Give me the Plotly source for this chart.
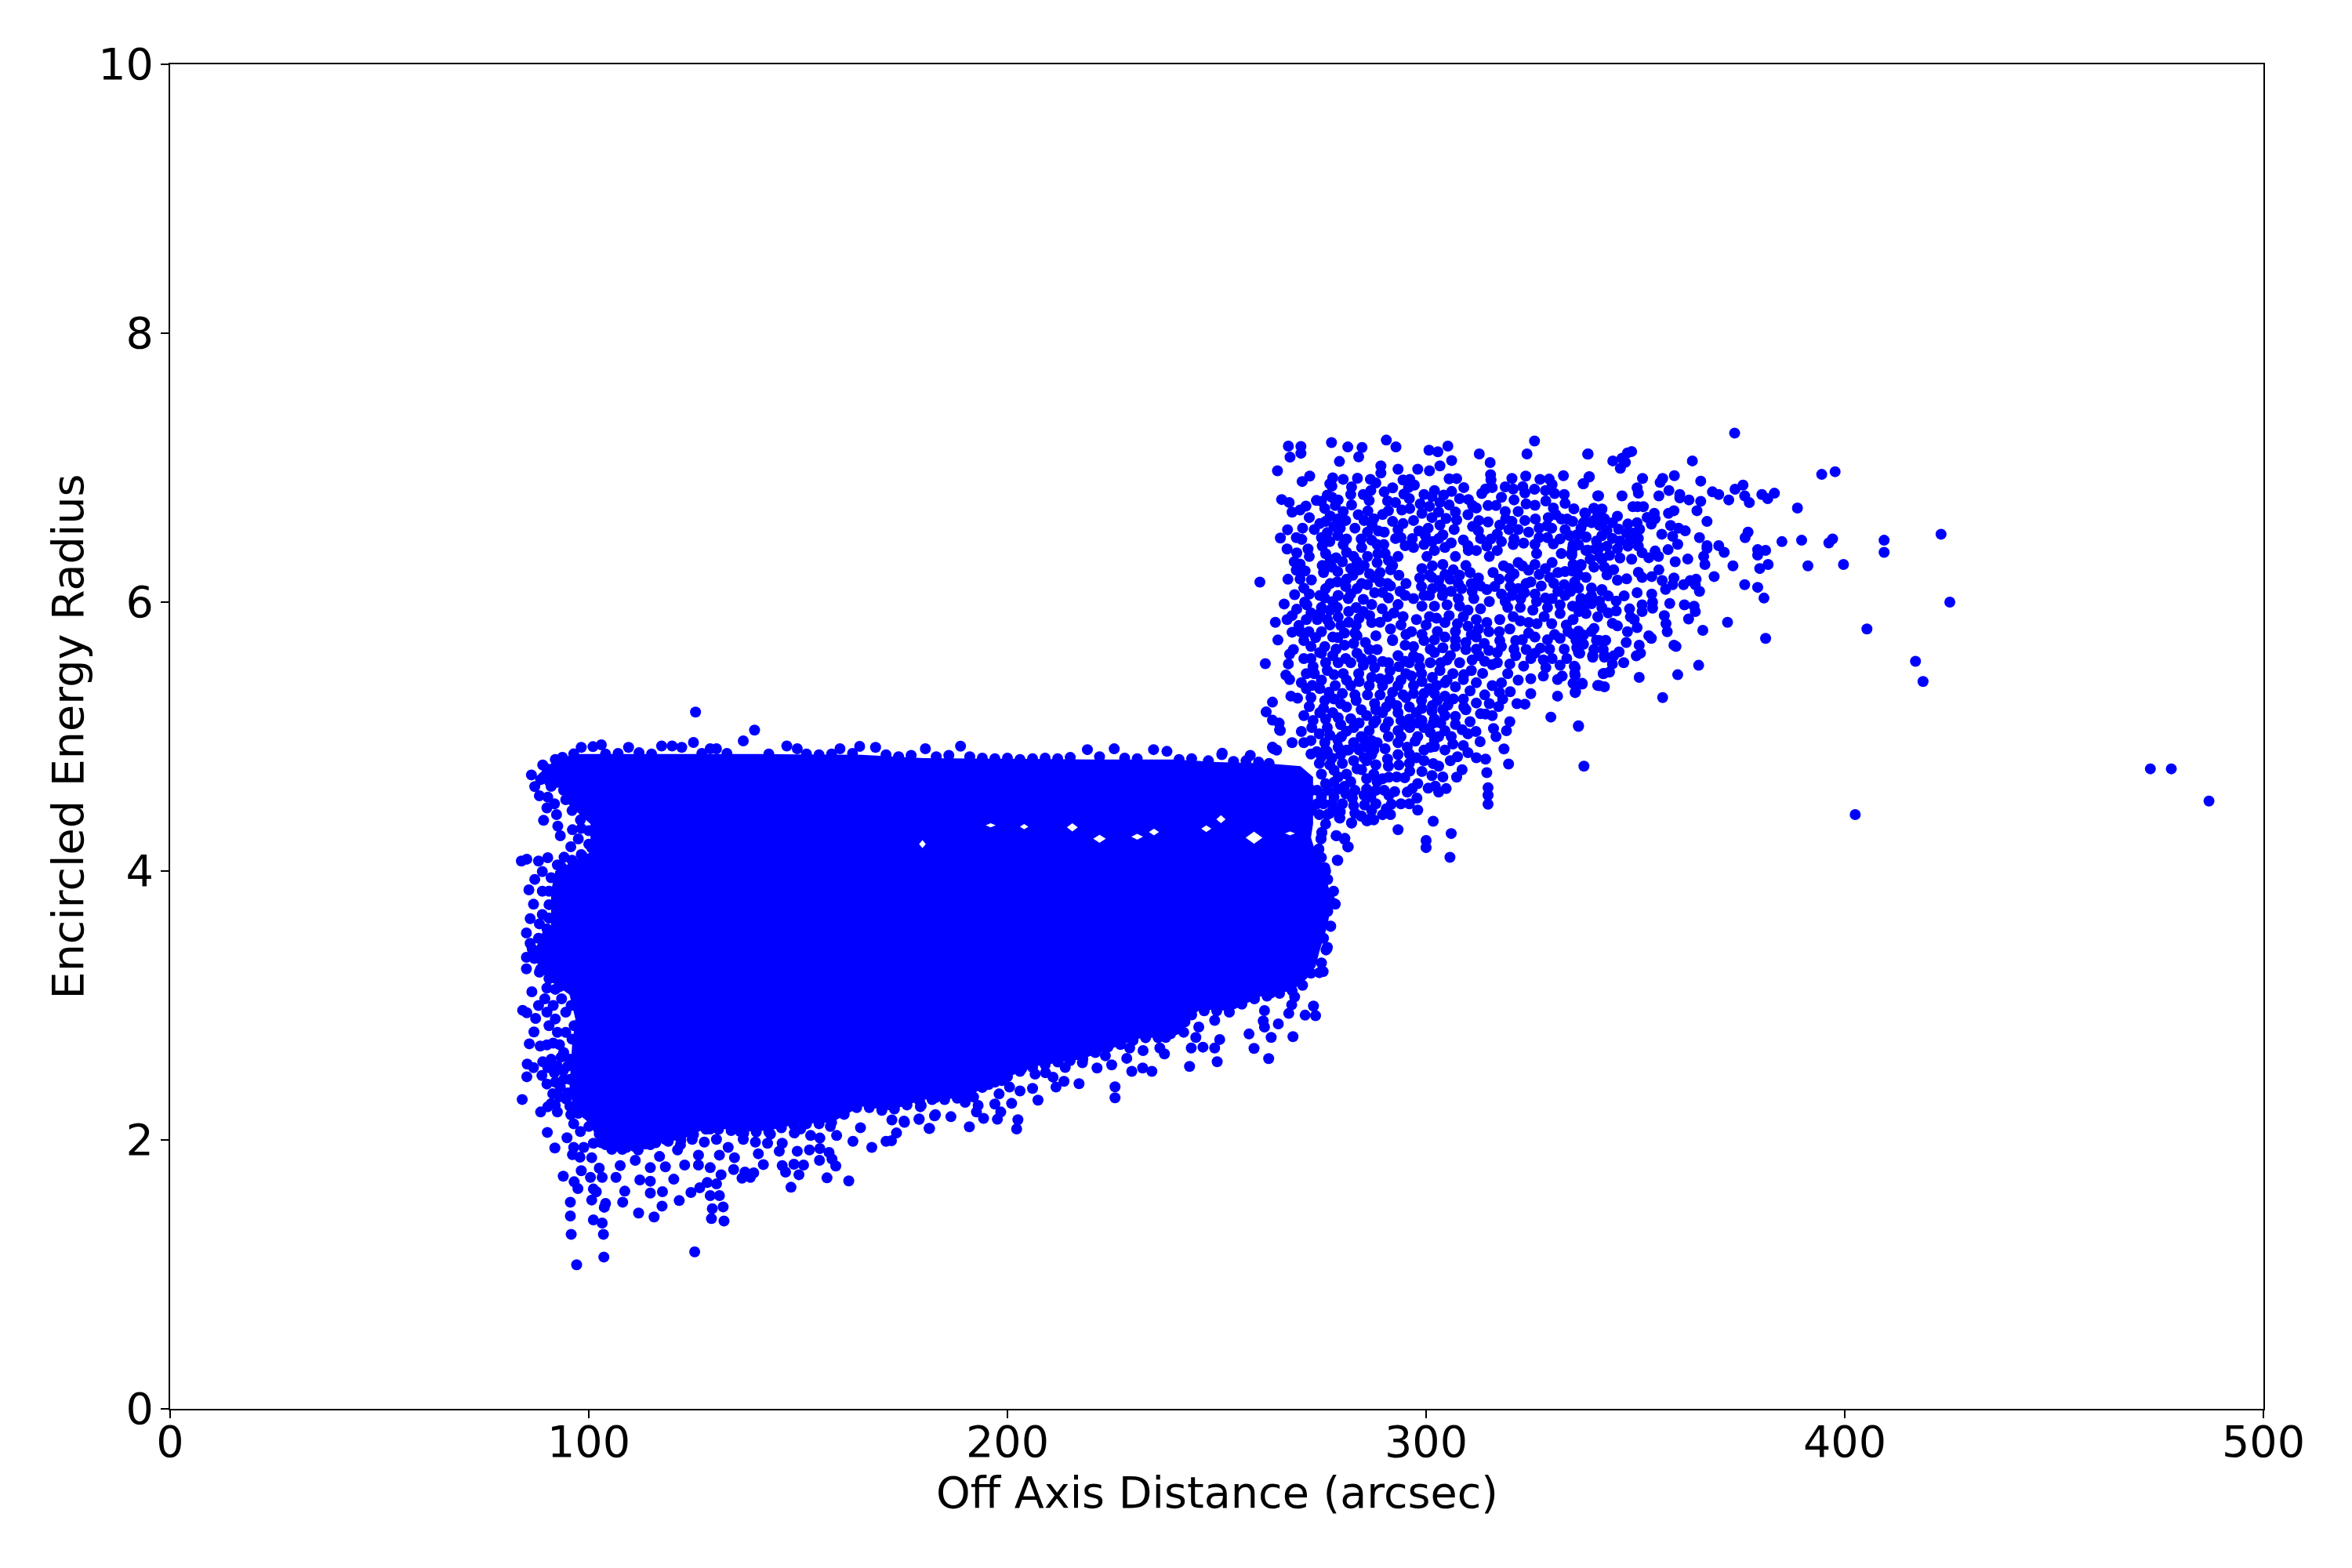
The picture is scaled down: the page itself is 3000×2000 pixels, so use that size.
import plotly.graph_objects as go

x_ticks = [0, 100, 200, 300, 400, 500]
y_ticks = [0, 2, 4, 6, 8, 10]
x_title = "Off Axis Distance (arcsec)"
y_title = "Encircled Energy Radius"

# Outline of the saturated core, where thousands of overlapping points merge into solid colour.
core_x = [95.4,98,120,140,165,180,200,220,240,250,262,270,273,273,272.5,273.5,275,276,277,277,276.5,275.5,274.5,273.6,271.5,268,260.7,253.5,246,238,232,217.7,207,196,190,180,172,165,158,150,143,136,129,122,115,107.5,102.5,100.4,96.4,95.4,96,96.8,95.4,90,88,87,89,91,91,92,99,100.4,100.4,95,94.5,90,88,91]
core_y = [4.86,4.87,4.87,4.87,4.865,4.84,4.835,4.83,4.83,4.81,4.80,4.78,4.70,4.35,4.25,4.15,4.08,3.95,3.85,3.7,3.6,3.5,3.40,3.29,3.2,3.11,3.07,2.96,2.97,2.76,2.76,2.6,2.55,2.42,2.31,2.30,2.22,2.25,2.13,2.12,2.07,2.06,2.10,2.0,1.98,1.93,1.96,2.12,2.22,2.39,2.7,2.9,3.08,3.2,3.28,3.4,3.55,3.58,3.85,4.0,4.12,4.14,4.35,4.5,4.62,4.62,4.72,4.80]
# Small empty pockets inside the core: centre x, centre y, half width, half height.
pockets = [(258.9,4.248,2.0,0.045),(231,4.255,1.4,0.022),(222,4.24,1.5,0.03),(215.5,4.325,1.3,0.03),(235,4.29,1.2,0.025),(196,4.34,1.2,0.015),(204,4.33,1.0,0.02),(251,4.385,1.1,0.03),(247.5,4.315,1.2,0.025),(267.5,4.28,1.2,0.015),(179.7,4.2,0.8,0.03)]

far_field = [(373.7,7.257),(338.6,7.10),(344.6,7.05),(349.1,7.12),(348.1,7.11),(346.8,7.07),(347.6,7.04),(346.4,6.995),(363.6,7.05),(394.5,6.95),(397.7,6.97),(351.7,6.92),(338.9,6.93),(337.5,6.88),(359.3,6.94),(356.5,6.92),(355.9,6.89),(365.6,6.90),(350.4,6.85),(350.7,6.81),(358,6.83),(341,6.79),(346.8,6.79),(355.6,6.79),(360.6,6.80),(360.6,6.775),(362.8,6.76),(365.6,6.75),(368.4,6.82),(369.9,6.80),(372.3,6.76),(373.8,6.84),(375.7,6.87),(376.1,6.79),(377.2,6.74),(380.2,6.80),(381.6,6.77),(383.2,6.81),(388.7,6.70),(364.7,6.68),(359.2,6.68),(357.9,6.66),(349.4,6.71),(350.5,6.71),(351.9,6.71),(354.5,6.66),(352.8,6.63),(353.8,6.58),(354.7,6.62),(367.1,6.60),(358.4,6.57),(360.3,6.55),(361.9,6.53),(356.3,6.505),(358.9,6.49),(365.3,6.48),(376.9,6.52),(376.2,6.48),(385,6.45),(389.7,6.46),(396.2,6.44),(397.1,6.47),(409.4,6.46),(409.4,6.37),(423,6.505),(360.1,6.43),(357.8,6.39),(354.7,6.38),(355.5,6.34),(353.2,6.33),(367.1,6.42),(367.1,6.40),(366.3,6.34),(366.6,6.28),(369.9,6.42),(371.2,6.37),(379.2,6.39),(381.1,6.385),(379.2,6.35),(381.7,6.28),(379.7,6.25),(373.3,6.27),(362.5,6.32),(359.5,6.30),(391.2,6.27),(399.7,6.28),(355.6,6.24),(353.9,6.19),(359.2,6.18),(356.4,6.16),(358.9,6.13),(357.2,6.095),(361.5,6.13),(363.1,6.16),(364.5,6.17),(364.3,6.13),(365.3,6.08),(368.8,6.19),(376.1,6.13),(379.2,6.11),(380.7,6.03),(425.1,6.0),(350.4,6.07),(353.9,6.06),(354.1,6.0),(354.1,5.955),(351.6,5.98),(351.6,5.93),(358.2,5.99),(361.7,5.98),(364,5.97),(364.3,5.93),(362.7,5.875),(356.9,5.90),(357.3,5.84),(357.6,5.78),(372,5.85),(366.1,5.79),(381.1,5.73),(405.3,5.80),(348.6,5.95),(348.8,5.89),(349.7,5.87),(350.4,5.81),(348.1,5.78),(353.2,5.75),(353.8,5.73),(347.8,5.70),(350.9,5.68),(359.2,5.68),(359.7,5.67),(351.2,5.62),(350.2,5.60),(346.1,5.63),(344.8,5.60),(347.2,5.55),(344.5,5.54),(416.9,5.56),(418.7,5.41),(365.1,5.53),(360.1,5.46),(350.9,5.44),(343.8,5.48),(342.5,5.47),(342.6,5.37),(341,5.38),(356.5,5.29),(336.4,5.08),(337.7,4.78),(402.5,4.42),(473,4.76),(478,4.76),(487,4.52)]

cluster_knot = [(340.1,6.698),(341.9,6.688),(338.1,6.659),(341,6.639),(342.6,6.62),(337.6,6.591),(339.5,6.591),(341.4,6.571),(345.7,6.639),(348.2,6.581),(350.4,6.591),(344.5,6.591),(351,6.542),(343.2,6.532),(346,6.542),(347.9,6.513),(349.4,6.513),(338.2,6.484),(340.7,6.455),(342,6.494),(344.5,6.474),(346.3,6.455),(348.8,6.464),(350.7,6.474),(335.1,6.426),(336.4,6.426),(338.6,6.387),(340.4,6.396),(343.2,6.416),(345.7,6.396),(348.2,6.416),(350.7,6.416),(351.6,6.367),(334.8,6.367),(337,6.28),(339.2,6.319),(341.4,6.338),(343.8,6.348),(346.3,6.328),(349.1,6.319),(335.1,6.28),(340.1,6.26),(342.6,6.26),(344.8,6.241),(347.9,6.173),(350.7,6.222),(351.6,6.183),(336.4,6.202),(338.2,6.183),(343.2,6.202),(345.7,6.163),(335.1,6.105),(336.4,6.105),(339.5,6.105),(342,6.085),(343.5,6.046),(337,6.027),(338.9,6.027),(341.4,6.008),(345.4,6.008),(347.3,6.046),(337.6,5.949),(339.5,5.988),(345.4,5.934),(343.5,5.92),(341,5.891),(344.5,5.842),(345.7,5.823),(340.1,5.804),(336.4,5.784),(337.6,5.755),(335.8,5.716),(340.7,5.716),(342.9,5.716),(337.6,5.687),(340.1,5.648),(342.3,5.648),(336.7,5.619),(339.8,5.59),(342.6,5.59),(335.6,5.512),(335.6,5.454),(335.1,5.396),(337.3,5.396),(335.6,5.327)]

cluster_top = [(267.1,7.16),(270.1,7.158),(270.1,7.107),(267.5,7.078),(277.4,7.187),(281.3,7.154),(284.7,7.15),(283.9,7.08),(279.3,7.046),(290.5,7.205),(292.8,7.154),(300.7,7.13),(302.8,7.118),(305.2,7.16),(306.1,7.053),(303.3,7.013),(300.8,6.977),(298,6.988),(293.3,6.988),(289.2,7.013),(289.2,6.96),(264.5,6.977),(272.2,6.937),(270.4,6.897),(312.7,7.102),(315.3,7.038),(324.1,7.102),(325.9,7.198),(338.7,7.102),(315.4,6.948),(332.8,6.94),(339,6.933),(337.6,6.88),(341.2,6.79),(323.8,6.937),(320.5,6.92),(277.7,6.924),(280.2,6.913),(282.2,6.857),(283.6,6.921),(277.5,6.863),(286.7,6.913),(288,6.886),(286.8,6.83),(286.4,6.756),(294.5,6.908),(296.1,6.913),(297.2,6.87),(295.8,6.852),(294.7,6.803),(305.5,6.917),(307.3,6.919),(309,6.852),(306.1,6.823),(304.2,6.796),(301.4,6.785),(298.6,6.73),(300.8,6.712),(303.3,6.741),(305.5,6.723),(310.1,6.763),(311.1,6.718),(313.3,6.808),(314.2,6.841),(315.8,6.852),(315.5,6.908),(318.9,6.857),(320.8,6.841),(323.1,6.859),(323.6,6.812),(325.9,6.839),(327.2,6.913),(329.4,6.915),(330.1,6.875),(330.7,6.808),(328.6,6.752),(330.4,6.7),(333.2,6.734),(335.3,6.694),(337.9,6.663),(340.1,6.696),(342,6.692),(265.5,6.763),(267.3,6.741),(268,6.669),(269.9,6.685),(271.3,6.714),(273.8,6.756),(282.2,6.723),(276.4,6.796)]

cluster_upper = [(275.8,6.696),(278.3,6.718),(280.2,6.674),(277.1,6.64),(278.9,6.618),(280.8,6.607),(272.1,6.629),(273.3,6.54),(274.6,6.584),(276.4,6.517),(278,6.562),(278.9,6.495),(286.1,6.678),(285.2,6.607),(287.1,6.573),(288.6,6.529),(290.8,6.752),(292.7,6.741),(289.6,6.651),(294.2,6.685),(296.1,6.696),(294.5,6.584),(297,6.607),(293.3,6.54),(292.7,6.473),(298.3,6.529),(299.8,6.495),(296.7,6.473),(303,6.473),(301.4,6.629),(303.3,6.573),(304.8,6.622),(307.3,6.611),(306.7,6.54),(308.9,6.462),(311.1,6.562),(312.6,6.607),(314.8,6.596),(316.7,6.718),(314.8,6.718),(318.9,6.674),(317.6,6.573),(317,6.506),(319.8,6.54),(322,6.54),(322,6.674),(323.9,6.73),(323.6,6.607),(326.1,6.618),(329.2,6.629),(328.9,6.567),(332.3,6.618),(333.7,6.618),(333.2,6.54),(334.2,6.495),(330.4,6.433),(336.2,6.428),(338.2,6.484),(337.9,6.596),(340.1,6.607),(342,6.584),(313,6.473),(314.5,6.417),(320.8,6.428),(323.3,6.439),(266.9,6.538),(265.2,6.477),(270.3,6.466),(275.2,6.417),(271.8,6.395),(266.8,6.395),(269.1,6.366),(280.2,6.428),(288.3,6.428),(289.9,6.428)]

cluster_middle = [(272.1,6.339),(269.9,6.283),(269,6.238),(271.1,6.232),(269.9,6.171),(272.6,6.165),(270.8,6.104),(272.1,6.06),(268.6,6.055),(266.1,5.986),(266.8,5.87),(269.1,5.948),(260.3,6.149),(275.2,6.272),(277.1,6.317),(278.9,6.227),(282.7,6.339),(284.6,6.406),(282,6.25),(285.2,6.272),(288.3,6.294),(290.2,6.361),(292,6.272),(293.3,6.339),(297,6.406),(299.5,6.428),(300.2,6.339),(302,6.384),(304.5,6.406),(307,6.339),(309.5,6.272),(312,6.384),(310.1,6.384),(315.1,6.339),(317,6.384),(319.8,6.25),(322,6.294),(326.4,6.361),(324.5,6.238),(330.1,6.294),(332.3,6.361),(334.8,6.35),(338.2,6.384),(341.4,6.406),(342,6.317),(337,6.272),(333.2,6.227),(329.5,6.183),(327,6.205),(323.9,6.138),(320.1,6.116),(316.4,6.116),(314.5,6.093),(310.8,6.138),(307.7,6.138),(304.5,6.205),(301.4,6.183),(298.9,6.116),(295.2,6.138),(290.8,6.138),(287.7,6.183),(284.6,6.138),(280.8,6.116),(277.1,6.138),(274.6,6.049),(277.7,6.004),(281.4,6.026),(283.3,5.959),(287,5.982),(289.6,6.071),(293.3,5.982),(297,6.026),(300.8,6.049),(303.9,6.049),(307.7,6.026),(311.4,6.026),(315.1,6.004),(318.9,6.004),(322.6,6.026),(326.4,6.004),(330.1,6.026),(333.2,6.049),(337,6.004),(339.5,6.049),(342,6.093),(342,5.959),(338.2,5.915),(335.1,5.87),(332,5.915),(328.2,5.892),(324.5,5.848),(320.8,5.892),(317.6,5.87),(314.5,5.848),(312,5.87),(308.9,5.892),(304.5,5.848),(300.8,5.892),(297.7,5.87),(294.5,5.892),(290.8,5.892),(287,5.848),(283.3,5.826),(279.6,5.826),(276.4,5.87),(274.6,5.915),(271.4,5.87),(269.6,5.826),(268,5.776)]

cluster_lower = [(264.6,5.718),(268.3,5.647),(267.4,5.613),(270.8,5.714),(273.6,5.736),(270.8,5.58),(261.6,5.542),(267.1,5.54),(266.5,5.457),(271.4,5.468),(270.2,5.401),(267.4,5.424),(275.8,5.669),(278.9,5.736),(282.7,5.692),(286.4,5.647),(288.3,5.647),(292,5.714),(295.2,5.759),(297,5.669),(299.5,5.714),(302.7,5.781),(307,5.781),(310.8,5.759),(313.9,5.692),(317.6,5.714),(321.4,5.714),(324.5,5.77),(323.9,5.647),(327.3,5.658),(330.7,5.759),(333.9,5.781),(337,5.714),(339.5,5.781),(341.4,5.714),(342.6,5.602),(339.8,5.602),(336.4,5.625),(333.6,5.58),(330.1,5.58),(321.4,5.602),(317,5.625),(312.6,5.602),(309.5,5.647),(305.8,5.602),(302,5.625),(298.3,5.58),(293.3,5.602),(289.6,5.558),(284.6,5.58),(280.8,5.58),(277.7,5.602),(274.6,5.625),(273.3,5.468),(276.4,5.491),(280.2,5.468),(283.9,5.468),(287.7,5.513),(291.4,5.491),(295.2,5.468),(298.9,5.468),(303.3,5.491),(306.4,5.468),(310.8,5.491),(315.8,5.535),(319.5,5.468),(323.3,5.524),(328.6,5.513),(331.4,5.424),(335.4,5.524),(337.3,5.39),(335.7,5.334),(341.4,5.379),(342.3,5.468),(331.4,5.301),(325,5.319),(320.1,5.334),(315.8,5.379),(312,5.401),(308.9,5.424),(304.5,5.401),(300.8,5.357),(297,5.379),(293.3,5.379),(289.6,5.379),(286.4,5.379),(282,5.379),(278.3,5.379),(274.6,5.357),(271.4,5.357),(267.7,5.301),(269.3,5.285),(263.3,5.256),(261.8,5.183),(263.3,5.122),(264.9,5.1),(265,5.049),(321.7,5.245),(323.6,5.241),(318.3,5.279),(317.3,5.223),(315.1,5.245),(314.2,5.167),(315.8,5.156),(329.8,5.145),(320,5.111),(319.2,5.044),(336.4,5.076),(319.7,4.796),(318.6,4.908),(316.1,5.06),(316.7,5)]

cluster_base = [(308.9,5.279),(305.2,5.234),(302.7,5.268),(298.9,5.268),(295.2,5.29),(291.4,5.268),(287.7,5.245),(283.3,5.268),(279.6,5.245),(275.8,5.268),(272.1,5.223),(270.8,5.156),(274.6,5.178),(277.7,5.178),(282,5.133),(285.8,5.156),(289.6,5.178),(293.3,5.178),(297.7,5.178),(301.4,5.189),(304.5,5.156),(309.5,5.2),(310.5,5.111),(308.6,5.051),(311.9,5.038),(312.9,4.962),(304.5,5.044),(301.7,5.1),(299.5,5.067),(296.1,5.067),(293.3,5.044),(290.2,5.067),(286.4,5.044),(282.7,5.067),(279.6,5.089),(276.4,5.067),(272.7,5.067),(270.2,5.038),(268,4.955),(263.3,4.921),(264.3,4.899),(270.8,4.955),(275.8,4.955),(278.9,4.977),(282.7,4.955),(285.2,4.977),(288.3,4.955),(293.3,4.955),(297.4,4.966),(302,4.977),(302,4.926),(299.5,4.899),(295.5,4.921),(306.4,4.944),(308.9,4.933),(312,4.843),(305.8,4.821),(314.2,4.832),(314.5,4.732),(308.6,4.754),(307.3,4.698),(301.7,4.799),(299.5,4.821),(297.7,4.843),(293.3,4.866),(290.8,4.832),(290.2,4.91),(287,4.866),(285.2,4.843),(282.7,4.821),(279.6,4.866),(276.4,4.888),(273.9,4.888),(293.5,4.788),(296.1,4.743),(294.9,4.694),(301.4,4.71),(300.5,4.616),(302.2,4.631),(304.8,4.613),(303,4.587),(296.7,4.613),(295.5,4.587),(297.8,4.542),(292.5,4.591),(291.1,4.564),(291.7,4.497),(290.5,4.464),(289.6,4.419),(298,4.453),(301.7,4.37),(293.3,4.308),(306,4.279),(300,4.227),(300,4.174),(305.7,4.102),(314.8,4.62),(314.8,4.564),(314.8,4.497),(285.8,4.821),(284.6,4.754),(285.8,4.687),(288.3,4.665),(291.1,4.698),(289.6,4.687),(285.8,4.609),(285.2,4.564),(282,4.665),(278.9,4.609),(280.8,4.575),(282.4,4.542),(282.7,4.486),(285.3,4.491),(278.6,4.453),(279.3,4.397),(276.4,4.419),(282.2,4.357),(284.6,4.408),(285.8,4.375),(286.7,4.39),(275.1,4.285),(274.9,4.241),(278.5,4.263),(280.5,4.236),(281.3,4.18),(274.4,4.163),(278.8,4.08),(276.5,4.6),(275,4.72),(278,4.75),(275.5,4.5),(278,4.55),(276,4.35),(251.2,4.866),(258,4.86)]

cluster_dense = [(276,6.36),(278.5,6.33),(281,6.37),(283.5,6.3),(286,6.34),(288.5,6.36),(291,6.31),(275.5,6.22),(277.5,6.26),(280,6.3),(282.5,6.2),(284,6.24),(286.5,6.21),(289,6.22),(291.5,6.24),(293.5,6.2),(276,6.1),(278.8,6.15),(281,6.17),(283.5,6.1),(286,6.13),(289,6.15),(291.5,6.12),(293.8,6.08),(275.8,6.03),(279,6.05),(282,6.06),(285,6.02),(287.7,6.07),(291,6.03),(295,6.05),(278.8,5.96),(281.5,5.93),(285,5.93),(289.5,5.95),(292.3,5.92),
(299,6.25),(301.5,6.27),(304,6.28),(306.5,6.24),(298.5,6.18),(300.8,6.2),(303,6.16),(305.7,6.17),(308,6.2),(310.5,6.22),(312.5,6.18),(299.5,6.05),(301.5,6.1),(303.7,6.1),(306,6.08),(308.5,6.1),(311,6.08),(313,6.12),(299,5.97),(302,5.97),(305,5.98),(308,5.97),(310,5.94),(313,5.95),(300,5.83),(302.5,5.88),(305.5,5.9),(307.5,5.84),(310,5.82),(312.5,5.8),
(316,6.22),(318.5,6.27),(321,6.21),(323,6.27),(326,6.28),(328.5,6.25),(331.5,6.22),(335,6.23),(317.5,6.17),(320,6.18),(322,6.1),(325,6.15),(327.5,6.12),(330.5,6.14),(333,6.13),(335.5,6.15),(318,6.06),(320.5,6.05),(323.5,6.07),(326,6.06),(328.5,6.03),(331.5,6.08),(334.5,6.08),(319.5,5.96),(322.5,5.96),(325.5,5.94),(329,5.96),(332,5.98),(335,5.97),(322.5,5.86),(326.5,5.84),(330,5.84),(333.5,5.83),(336.5,5.93),
(272,5.78),(275,5.78),(277.7,5.74),(280.5,5.77),(283.5,5.75),(272.5,5.67),(275,5.62),(278.5,5.65),(280.5,5.68),(283.5,5.62),(285.5,5.7),(272.5,5.58),(276,5.55),(279,5.55),(282,5.55),(285,5.53),(287,5.57),(273,5.52),(275,5.42),(278,5.46),(281,5.42),(284,5.41),(287,5.44),(289,5.43),(272.8,5.38),(276.8,5.33),(280,5.32),(283,5.31),(286,5.31),(289,5.31),(272.5,5.29),(275.5,5.21),(278,5.28),(281,5.22),(284.5,5.2),(288,5.2),
(291,5.55),(293.5,5.52),(296,5.55),(298.5,5.52),(301,5.55),(303.5,5.55),(291,5.43),(294,5.42),(296.5,5.45),(299,5.41),(301.5,5.44),(292,5.33),(294.5,5.31),(297,5.32),(299.5,5.32),(302,5.32),(304.5,5.3),(290.5,5.22),(293,5.23),(296,5.22),(299,5.21),(301.5,5.23),(304,5.2),(307,5.15),(288,5.12),(291,5.11),(294,5.12),(296,5.13),(299,5.12),(302,5.13),
(273,5.12),(276,5.13),(279,5.14),(281,5.04),(284,5.1),(287.5,5.1),(277,5.01),(279.8,5.0),(284.5,5.0),(287,4.97),(291,5.0),(294,5.0),(298,5.0),(301,5.03),(272.5,4.97),(274.5,5.02),(279,4.92),(281.5,4.9),(284,4.91),(286,4.92),(296,4.87),(295,5.09),(303.5,5.1),
(275,6.75),(277.5,6.78),(279,6.76),(276,6.6),(279.5,6.55),(275,6.48),(277,6.45),(281,6.47),(283,6.55),(284.5,6.47),(287,6.46),(290,6.52),(292,6.6),(287.5,6.62),(283.8,6.65),(300.5,6.55),(304,6.5),(301.5,6.45),(306,6.44),(310,6.42),(312.5,6.53),(315.5,6.47),(318,6.45),(321,6.47),(324.5,6.52),(327,6.48),(330,6.55),(332,6.47),(326,6.43),(335,6.4),(337,6.55),
(272.5,4.87),(275,4.85),(277.5,4.84),(280,4.8),(277,4.79),(279,4.7),(281,4.72),(283.5,4.76),(276,4.65),(278,4.66),(280.5,4.63),(283,4.6),(275,4.55),(277.5,4.5),(280,4.5),(274.5,4.42),(277,4.43),(279.5,4.44),(274,4.6),(274,4.5),(274.5,4.8),(276,4.9),(281,4.9),(284,4.9),(287.5,4.9),(288,4.79),(291,4.78),(287.5,4.72),(286.8,4.55),(283,4.43),(288,4.5)]

cluster_fill = [(274,5.87),(277,5.83),(279,5.89),(281.5,5.85),(284,5.88),(286.5,5.9),(289,5.85),(291.5,5.8),(294,5.83),(296.5,5.78),(299,5.76),(275,5.96),(277,5.94),(283,5.77),(288,5.75),(292,5.72),(295,5.68),(302,5.72),(304.5,5.74),(307,5.72),(309.5,5.7),(312,5.74),(315,5.78),(317.5,5.78),(320,5.8),(323,5.72),(326,5.74),(329,5.72),(332,5.73),(335,5.76),(336,5.66),(333,5.65),(329.5,5.65),(326,5.62),(321,5.65),(318,5.67),(315,5.64),(312,5.65),(307,5.67),(304,5.66),(301,5.65),(297,5.6),(295,5.56),(305,5.57),(308,5.55),(311,5.57),(314,5.56),(317,5.55),(320,5.54),(325,5.58),(328,5.57),(332,5.53),(335.5,5.47),(332.5,5.45),(328,5.45),(325,5.43),(322,5.42),(318,5.4),(313.5,5.47),(309,5.46),(305,5.42),(302.5,5.38),(307,5.37),(310.5,5.34),(314,5.31),(317.5,5.33),(312,5.25),(309,5.22),(306.5,5.28),(313,5.17),(307,5.09),(303,5.0),(306,5.0),(310,5.02),(298,5.1),(301,4.92),(304.5,4.9),(307.5,4.85),(310,4.88),(303,4.78),(296,4.8),(299,4.74),(304,4.7),(298,4.65),(293,4.7),(290,4.6),(288,4.6),(287,4.45),(294,4.5),(296,4.5),(291.5,4.42),(287.5,4.38),
(277,6.88),(282,6.8),(285,6.8),(290,6.82),(292,6.85),(299.5,6.8),(302,6.83),(308,6.77),(312,6.7),(318,6.78),(321,6.76),(326,6.72),(328.5,6.83),(333,6.8),(296,6.77),(291,6.68),(299,6.66),(303,6.67),(307,6.67),(310,6.65),(319,6.62),(320.5,6.6),(327,6.55),(331,6.65),(335,6.6),(329,6.48),(336,6.5),(295,6.42),(294,6.48),(286,6.52),(270.5,6.55),(269,6.48),(268.5,6.3),(267,6.17),(271,6.0),(268,5.9),(264,5.85),(270,5.78),(272.5,5.92),(271.5,5.98)]

core_top_left = [(125.5,5.182),(139.6,5.048),(125,4.956),(136.9,4.968),(164.7,4.927),(103,4.939),(101,4.925),(98.2,4.92),(93.7,4.846),(96.4,4.871),(89,4.789),(86.3,4.715),(91,4.745),(87.1,4.628),(88.2,4.56),(90.2,4.55),(91.8,4.5),(90,4.469),(92.3,4.42),(89.2,4.377),(92.6,4.334),(93.2,4.262),(96.1,4.307),(98.2,4.317),(97.5,4.239),(95.7,4.181),(98.2,4.123),(100.7,4.171),(83.9,4.074),(85.2,4.088),(88,4.074),(90.2,4.099),(94.1,4.103),(92.5,4.045),(88.9,3.996),(87.1,3.938),(85.7,3.86),(88.9,3.85),(86.8,3.753),(86,3.646),(88.9,3.676),(88.2,3.607),(85.1,3.539),(86.0,3.462),(85.1,3.359),(85.1,3.273),(88.2,3.248),(109.5,4.92),(117.4,4.93),(119.9,4.93),(122.2,4.92),(129,4.91),(130.5,4.91),(147.3,4.93),(149.8,4.91),(160,4.91),(168.5,4.92),(180.4,4.91),(188.8,4.929),(219.1,4.903),(225.5,4.909),(234.9,4.903),(238.1,4.89),(251.3,4.876),(263.6,4.909),(265.2,5.045)]

core_top_edge = [(104,4.87),(107,4.875),(112,4.88),(115,4.87),(127,4.875),(133,4.875),(143,4.87),(152,4.87),(155,4.865),(158,4.87),(163,4.875),(171,4.865),(174,4.85),(177,4.86),(183,4.85),(186,4.86),(191,4.85),(194,4.84),(197,4.835),(200,4.84),(203,4.83),(206,4.835),(209,4.84),(212,4.835),(215,4.845),(222,4.85),(228,4.84),(231,4.835),(241,4.83),(244,4.835),(248,4.82),(254,4.815),(257,4.82),(260,4.81),(262.5,4.80)]

core_bottom_edge = [(100,2.1),(103,1.98),(105.5,1.93),(108,1.93),(111,1.95),(113.5,1.97),(116,1.98),(119,1.99),(122,2.0),(125,2.04),(128,2.08),(131,2.08),(134,2.07),(137,2.05),(140,2.06),(143,2.06),(146,2.09),(149,2.11),(152,2.12),(155,2.12),(158,2.13),(161,2.19),(164,2.24),(167,2.24),(170,2.22),(173,2.23),(176,2.26),(179,2.29),(182,2.3),(185,2.3),(188,2.31),(191,2.33),(194,2.39),(197,2.43),(200,2.47),(203,2.51),(206,2.54),(209,2.56),(212,2.58),(215,2.59),(218,2.6),(221,2.65),(224,2.69),(227,2.71),(230,2.74),(233,2.76),(236,2.76),(239,2.79),(241.5,2.87),(244,2.93),(247,2.96),(250,2.96),(253,2.95),(256,3.01),(259,3.05),(262,3.07),(265,3.09),(268,3.11),(270.5,3.15),(272.5,3.24)]

core_side_edge = [(100,2.2),(97.5,2.25),(95.5,2.45),(95.5,2.6),(96,2.75),(96.5,2.85),(95.8,3.0),(93,3.14),(90.5,3.2),(88.5,3.27),(87,3.35),(86.5,3.42),(88,3.5),(90,3.57),(90.5,3.65),(90.5,3.75),(90.5,3.85),(91,3.95),(93.5,4.03),(96,4.08),(98.5,4.11),(100,4.2),(100,4.3),(98,4.38),(96,4.45),(94.5,4.53),(94,4.6),(91,4.63),(88.5,4.68),(90,4.76),(92,4.83),(272.7,4.6),(272.7,4.45),(276.5,3.7),(275.5,3.5),(276.8,3.8),(276,4.0),(275,4.1)]

core_bottom_left = [(86.4,3.102),(84.2,2.964),(85.2,2.946),(87.3,2.904),(86.9,2.803),(85.8,2.715),(88.4,2.698),(90,2.707),(93,2.709),(93.4,2.616),(89,2.581),(85.3,2.564),(86.8,2.538),(90.2,2.538),(85.2,2.47),(88.8,2.48),(91.8,2.499),(93.9,2.515),(90,2.416),(91.4,2.344),(93.2,2.393),(84.1,2.301),(94.6,2.305),(88.5,2.208),(90.2,2.247),(92,2.257),(92.5,2.208),(95.7,2.188),(97.5,2.198),(96.4,2.12),(98,2.062),(90.1,2.056),(94.8,2.016),(91.9,1.94),(96.4,1.945),(98.8,1.945),(96.1,1.891),(97.9,1.872),(101.1,1.975),(100.7,1.868),(98.2,1.771),(93.9,1.73),(96.5,1.689),(97.4,1.638),(101.1,1.635),(101.8,1.615),(100.7,1.553),(95.6,1.537),(95.6,1.434),(104,1.528),(103.7,1.499),(101.1,1.405),(103.2,1.382),(95.8,1.298),(103.5,1.298),(97.1,1.071),(103.6,1.129),(125.3,1.168),(108.6,1.619),(108.1,1.537),(111.9,1.456),(115.6,1.427),(117.5,1.508),(121.6,1.549),(114.7,1.605),(117.6,1.615),(120.3,1.708),(114.7,1.693),(112.2,1.703),(106.5,1.722),(103.2,1.722),(100.4,1.722),(102.5,1.79),(107.5,1.809),(114.7,1.794),(118.3,1.8),(122.9,1.813),(126.2,1.813),(129,1.794),(124.4,1.609),(126.5,1.644),(128.3,1.683),(130.5,1.673),(131.6,1.741),(129,1.586),(131.2,1.586),(129.5,1.489),(132.1,1.502),(129.3,1.415),(132.3,1.397),(134.6,1.78),(136.6,1.716),(138.6,1.722),(139.4,1.755),(137.3,1.761),(141.7,1.817),(146.2,1.809),(147,1.761),(149,1.819),(151.3,1.813),(150.2,1.741),(148.3,1.648),(155.1,1.848),(156.9,1.718),(162.1,1.695),(159,1.806),(158.1,1.858),(157.4,1.907),(149.8,1.916),(152.7,1.926),(155.2,1.936),(145.5,1.916),(140.5,1.897),(134.8,1.868),(131.2,1.887),(126.2,1.887),(121.2,1.926),(116.9,1.877),(111.1,1.848),(167.6,1.945),(171,1.99),(172.3,1.994),(173.5,2.052),(163.1,1.99),(181.4,2.085),(178.9,2.153),(175.3,2.14),(172.4,2.149),(164.9,2.091),(159.2,2.033),(155.2,2.014),(153,2.033),(149.1,2.052),(182.8,2.315),(179.2,2.247),(182.8,2.188),(104,1.965),(106.1,2.004),(109,1.945),(111.8,1.926),(114.7,1.965),(118.3,2.004),(121.9,1.965),(124.7,2.004),(127.6,1.984),(130.5,2.004),(133.3,1.945),(136.9,2.004),(139.8,1.984),(142.7,1.975),(146.2,1.975),(102.5,2.043),(109.7,2.062),(117.6,2.082),(129,2.082),(136.2,2.062),(143.4,2.043),(150.6,2.082),(157.7,2.101),
(89.5,3.05),(91.5,3.0),(93.5,3.05),(94.5,2.95),(92,2.9),(90,2.95),(92.5,2.8),(94.5,2.8),(90.5,2.85),(91.5,2.72),(94,2.65),(95,2.55),(92.5,2.55),(91,2.6),(94,2.45),(92,2.43),(95,2.35),(93,2.32),(91,2.27),(95.5,2.25),(88,3.0),(92,3.12),(94.5,3.15),(90,3.13)]

core_bottom_right = [(181.3,2.086),(190.9,2.098),(202.2,2.082),(202.5,2.15),(197.6,2.154),(194.3,2.16),(186.5,2.173),(178.9,2.156),(175.4,2.131),(182.6,2.179),(192.6,2.208),(198.4,2.208),(201,2.272),(207.3,2.296),(197,2.267),(193,2.257),(189.9,2.28),(179.4,2.257),(198,2.342),(203,2.364),(206,2.383),(211.6,2.393),(213.5,2.436),(217.1,2.418),(225.7,2.395),(225.7,2.313),(200.5,2.393),(198.7,2.442),(190.8,2.403),(191.9,2.319),(206.6,2.49),(209.1,2.5),(210.9,2.467),(221.4,2.535),(229.7,2.51),(232.3,2.535),(234.5,2.51),(243.5,2.547),(250.1,2.582),(262.4,2.605),(258.9,2.681),(249.5,2.684),(246.7,2.69),(243.9,2.684),(250.7,2.747),(257.7,2.788),(263,2.762),(268.2,2.768),(245,2.762),(237.5,2.64),(232.4,2.665),(228.5,2.607),(224.9,2.558),(217.9,2.574),(213.8,2.539),(242.1,2.801),(240.1,2.821),(240.4,2.879),(242.4,2.879),(245.7,2.84),(249.5,2.889),(261.1,2.885),(261.4,2.84),(264.7,2.863),(267.2,2.941),(261.4,2.962),(271.1,2.928),(273.6,2.924),(273.1,2.996),(267.9,3.005),(268.6,3.064),(262.9,3.093),(274.5,3.244),(275.4,3.252),(275,3.316),(276.1,3.413),(276.4,3.433),(277.2,3.588),(278.3,3.754),(237.8,2.762),(236.4,2.684),(229.2,2.684),(223.4,2.626),(217.7,2.626),(209.1,2.587),(203.4,2.529),(195.5,2.412),(186.2,2.354),(275.1,4.287),(274.9,4.239),(274.3,4.161),(278.6,4.262),(280.6,4.243),(281.4,4.18),(278.9,4.079),(282.2,4.359),(279.4,4.394),(284.4,4.41),(286,4.375),(263.4,4.915),(277.9,3.85),(277.9,3.759),(277.2,3.591),(276.3,3.422),(275.8,4.025),(276.5,3.937)]

points = far_field + cluster_knot + cluster_top + cluster_upper + cluster_middle + cluster_lower + cluster_base + cluster_dense + cluster_fill + core_top_left + core_top_edge + core_bottom_edge + core_side_edge + core_bottom_left + core_bottom_right
off_axis = [p[0] for p in points]
radius = [p[1] for p in points]

fill_x = core_x + core_x[:1]
fill_y = core_y + core_y[:1]
for cx, cy, hw, hh in pockets:
    fill_x += [None, cx, cx - hw, cx, cx + hw, cx]
    fill_y += [None, cy + hh, cy, cy - hh, cy, cy + hh]

fig = go.Figure()
fig.add_trace(go.Scatter(x=fill_x, y=fill_y, mode="lines", fill="toself", fillcolor="#0000ff",
                         line=dict(width=0, color="#0000ff"), hoverinfo="skip", showlegend=False))
fig.add_trace(go.Scatter(x=off_axis, y=radius, mode="markers",
                         marker=dict(color="#0000ff", size=14, line=dict(width=0)), showlegend=False))

axis_common = dict(showline=True, mirror=True, linecolor="black", linewidth=2, ticks="outside",
                   ticklen=10, tickwidth=2, tickcolor="black", showgrid=False, zeroline=False,
                   tickfont=dict(family="DejaVu Sans", size=55.6, color="black"))
fig.update_xaxes(range=[0, 500], tickvals=x_ticks, ticktext=[str(v) for v in x_ticks],
                 ticklabelstandoff=-18, **axis_common)
fig.update_yaxes(range=[0, 10], tickvals=y_ticks, ticktext=[str(v) for v in y_ticks],
                 ticklabelstandoff=-2, **axis_common)
title_font = dict(family="DejaVu Sans", size=55.6, color="black")
fig.update_layout(width=3000, height=2000, autosize=False, paper_bgcolor="white", plot_bgcolor="white",
                  margin=dict(l=209, r=121, t=74, b=211, autoexpand=False), showlegend=False,
                  annotations=[
                      dict(text=x_title, xref="paper", yref="paper", x=0.5, y=0, yshift=-106,
                           xanchor="center", yanchor="middle", showarrow=False, font=title_font),
                      dict(text=y_title, xref="paper", yref="paper", x=0, y=0.5, xshift=-131, textangle=-90,
                           xanchor="center", yanchor="middle", showarrow=False, font=title_font),
                  ])
fig.write_html("out.html")
